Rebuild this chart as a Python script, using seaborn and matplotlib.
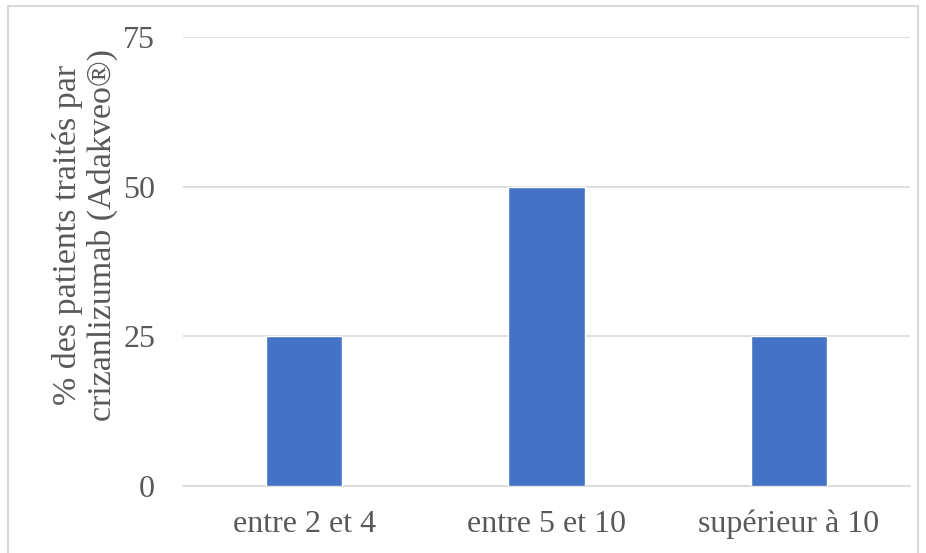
import matplotlib
matplotlib.use("Agg")
import matplotlib.pyplot as plt
import seaborn as sns
import pandas as pd
from matplotlib.patches import Rectangle

categories = ["entre 2 et 4", "entre 5 et 10", "supérieur à 10"]
values = [25, 50, 25]
yticks = [0, 25, 50, 75]
ylabel = "% des patients traités par\ncrizanlizumab (Adakveo®)"

sns.set_theme(style="white")
plt.rcParams["font.family"] = ["Liberation Serif", "DejaVu Serif"]

df = pd.DataFrame({"cat": categories, "val": values})

fig = plt.figure(figsize=(9.26, 5.53), dpi=100)
ax = fig.add_axes([183 / 926, 1 - 486 / 553, (910 - 183) / 926, (486 - 37) / 553])

sns.barplot(data=df, x="cat", y="val", color="#4472C4", saturation=1,
            width=0.314, ax=ax, zorder=3)

ax.set_ylim(0, 75)
ax.set_xlim(-0.5, 2.5)
ax.set_yticks(yticks)
ax.yaxis.grid(True, color="#D9D9D9", linewidth=1.2, zorder=0)
ax.set_axisbelow(True)
for side in ["left", "right", "top"]:
    ax.spines[side].set_visible(False)
ax.spines["bottom"].set_color("#D9D9D9")
ax.spines["bottom"].set_linewidth(1.2)
ax.tick_params(axis="both", length=0, labelsize=23, labelcolor="#595959")
ax.tick_params(axis="y", pad=20)
ax.tick_params(axis="x", pad=17)
ax.set_xlabel("")
ax.set_ylabel(ylabel, fontsize=24.5, color="#595959", linespacing=1.15)
ax.yaxis.set_label_coords(-0.089, 0.56)

fig.patches.append(Rectangle((8 / 926, -0.05), (918 - 8) / 926, 1 - 6 / 553 + 0.05,
                             transform=fig.transFigure, fill=False,
                             edgecolor="#D9D9D9", linewidth=1.5))

fig.savefig("out.png", dpi=100)
